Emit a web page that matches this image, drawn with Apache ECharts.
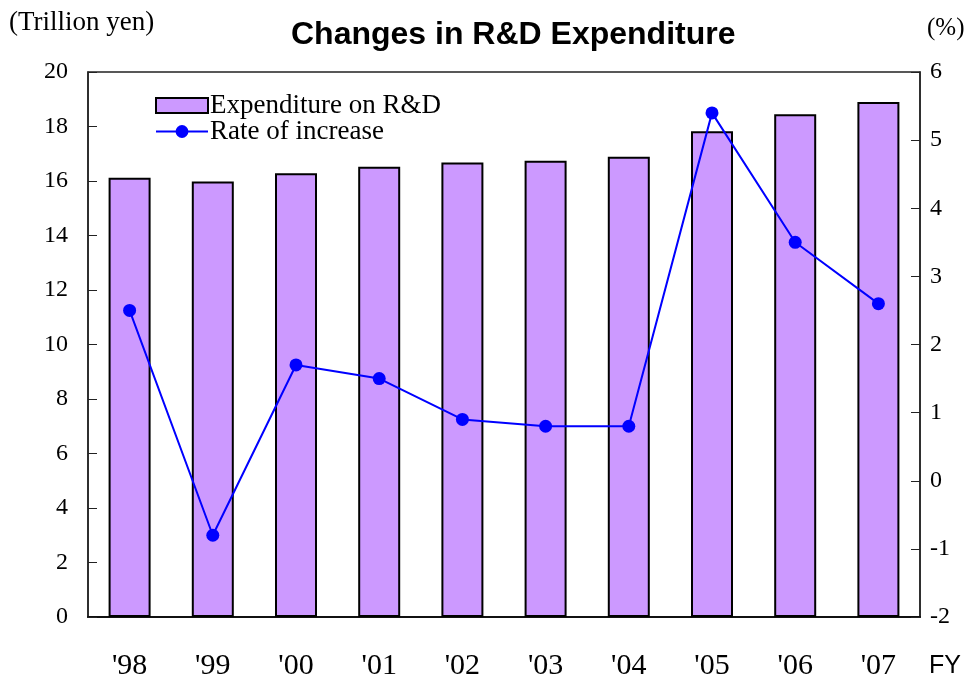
<!DOCTYPE html>
<html>
<head>
<meta charset="utf-8">
<script src="https://cdn.jsdelivr.net/npm/echarts@6/dist/echarts.min.js"></script>
<style>
  html, body { margin: 0; padding: 0; background: #fff; }
  #chart { width: 973px; height: 682px; }
</style>
</head>
<body>
<div id="chart"></div>
<script>
// fiscal years
const years = ["'98", "'99", "'00", "'01", "'02", "'03", "'04", "'05", "'06", "'07"];
// expenditure on R&D, trillion yen
const expenditure = [16.12, 15.98, 16.28, 16.52, 16.68, 16.74, 16.89, 17.83, 18.45, 18.9];
// rate of increase, %
const rate = [2.5, -0.8, 1.7, 1.5, 0.9, 0.8, 0.8, 5.4, 3.5, 2.6];
const leftTicks = [0, 20, 2];
const rightTicks = [-2, 6, 1];

const serif = '"Liberation Serif", "Times New Roman", serif';
const sans = '"Liberation Sans", Arial, sans-serif';

const legendText = { fontFamily: serif, fontSize: 27, color: '#000', padding: [0, 0, 0, -3] };

const chart = echarts.init(document.getElementById('chart'));
chart.setOption({
    animation: false,
    backgroundColor: '#fff',
    title: {
        text: 'Changes in R&D Expenditure',
        left: 286,
        top: 14,
        textStyle: { fontFamily: sans, fontWeight: 'bold', fontSize: 32, color: '#000' }
    },
    graphic: [
        { type: 'text', left: 9, top: 9, style: { text: '(Trillion yen)', font: '27px ' + serif, fill: '#000' } },
        { type: 'text', left: 927, top: 16, style: { text: '(%)', font: '25px ' + serif, fill: '#000' } },
        { type: 'text', left: 929, top: 654, style: { text: 'FY', font: '25px ' + sans, fill: '#000' } }
    ],
    legend: [{
        left: 150, top: 87,
        itemWidth: 52, itemHeight: 15,
        textStyle: legendText,
        data: [{ name: 'Expenditure on R&D', icon: 'rect', itemStyle: { borderWidth: 2 } }]
    }, {
        left: 150, top: 113,
        itemWidth: 52, itemHeight: 16,
        textStyle: legendText,
        data: ['Rate of increase']
    }],
    grid: {
        left: 88, right: 53, top: 72, bottom: 65,
        show: true, borderColor: '#222', borderWidth: 1.5
    },
    xAxis: {
        type: 'category',
        data: years,
        axisLine: { lineStyle: { color: '#111', width: 2 } },
        axisTick: { inside: true, length: 10, lineStyle: { color: '#222' } },
        axisLabel: { fontFamily: serif, fontSize: 30, color: '#000', margin: 34 }
    },
    yAxis: [{
        type: 'value',
        min: leftTicks[0], max: leftTicks[1], interval: leftTicks[2],
        splitLine: { show: false },
        axisLine: { show: true, lineStyle: { color: '#222', width: 1.5 } },
        axisTick: { show: true, inside: true, length: 9, lineStyle: { color: '#222' } },
        axisLabel: { fontFamily: serif, fontSize: 24, color: '#000', margin: 20 }
    }, {
        type: 'value',
        min: rightTicks[0], max: rightTicks[1], interval: rightTicks[2],
        splitLine: { show: false },
        axisLine: { show: true, lineStyle: { color: '#222', width: 1.5 } },
        axisTick: { show: true, inside: true, length: 9, lineStyle: { color: '#222' } },
        axisLabel: { fontFamily: serif, fontSize: 24, color: '#000', margin: 10 }
    }],
    series: [{
        name: 'Expenditure on R&D',
        type: 'bar',
        data: expenditure,
        barWidth: 42,
        itemStyle: { color: '#cc99ff', borderColor: '#000', borderWidth: 2 }
    }, {
        name: 'Rate of increase',
        type: 'line',
        yAxisIndex: 1,
        data: rate,
        symbol: 'circle',
        symbolSize: 13,
        lineStyle: { color: '#0000ff', width: 2 },
        itemStyle: { color: '#0000ff' }
    }]
});
</script>
</body>
</html>
